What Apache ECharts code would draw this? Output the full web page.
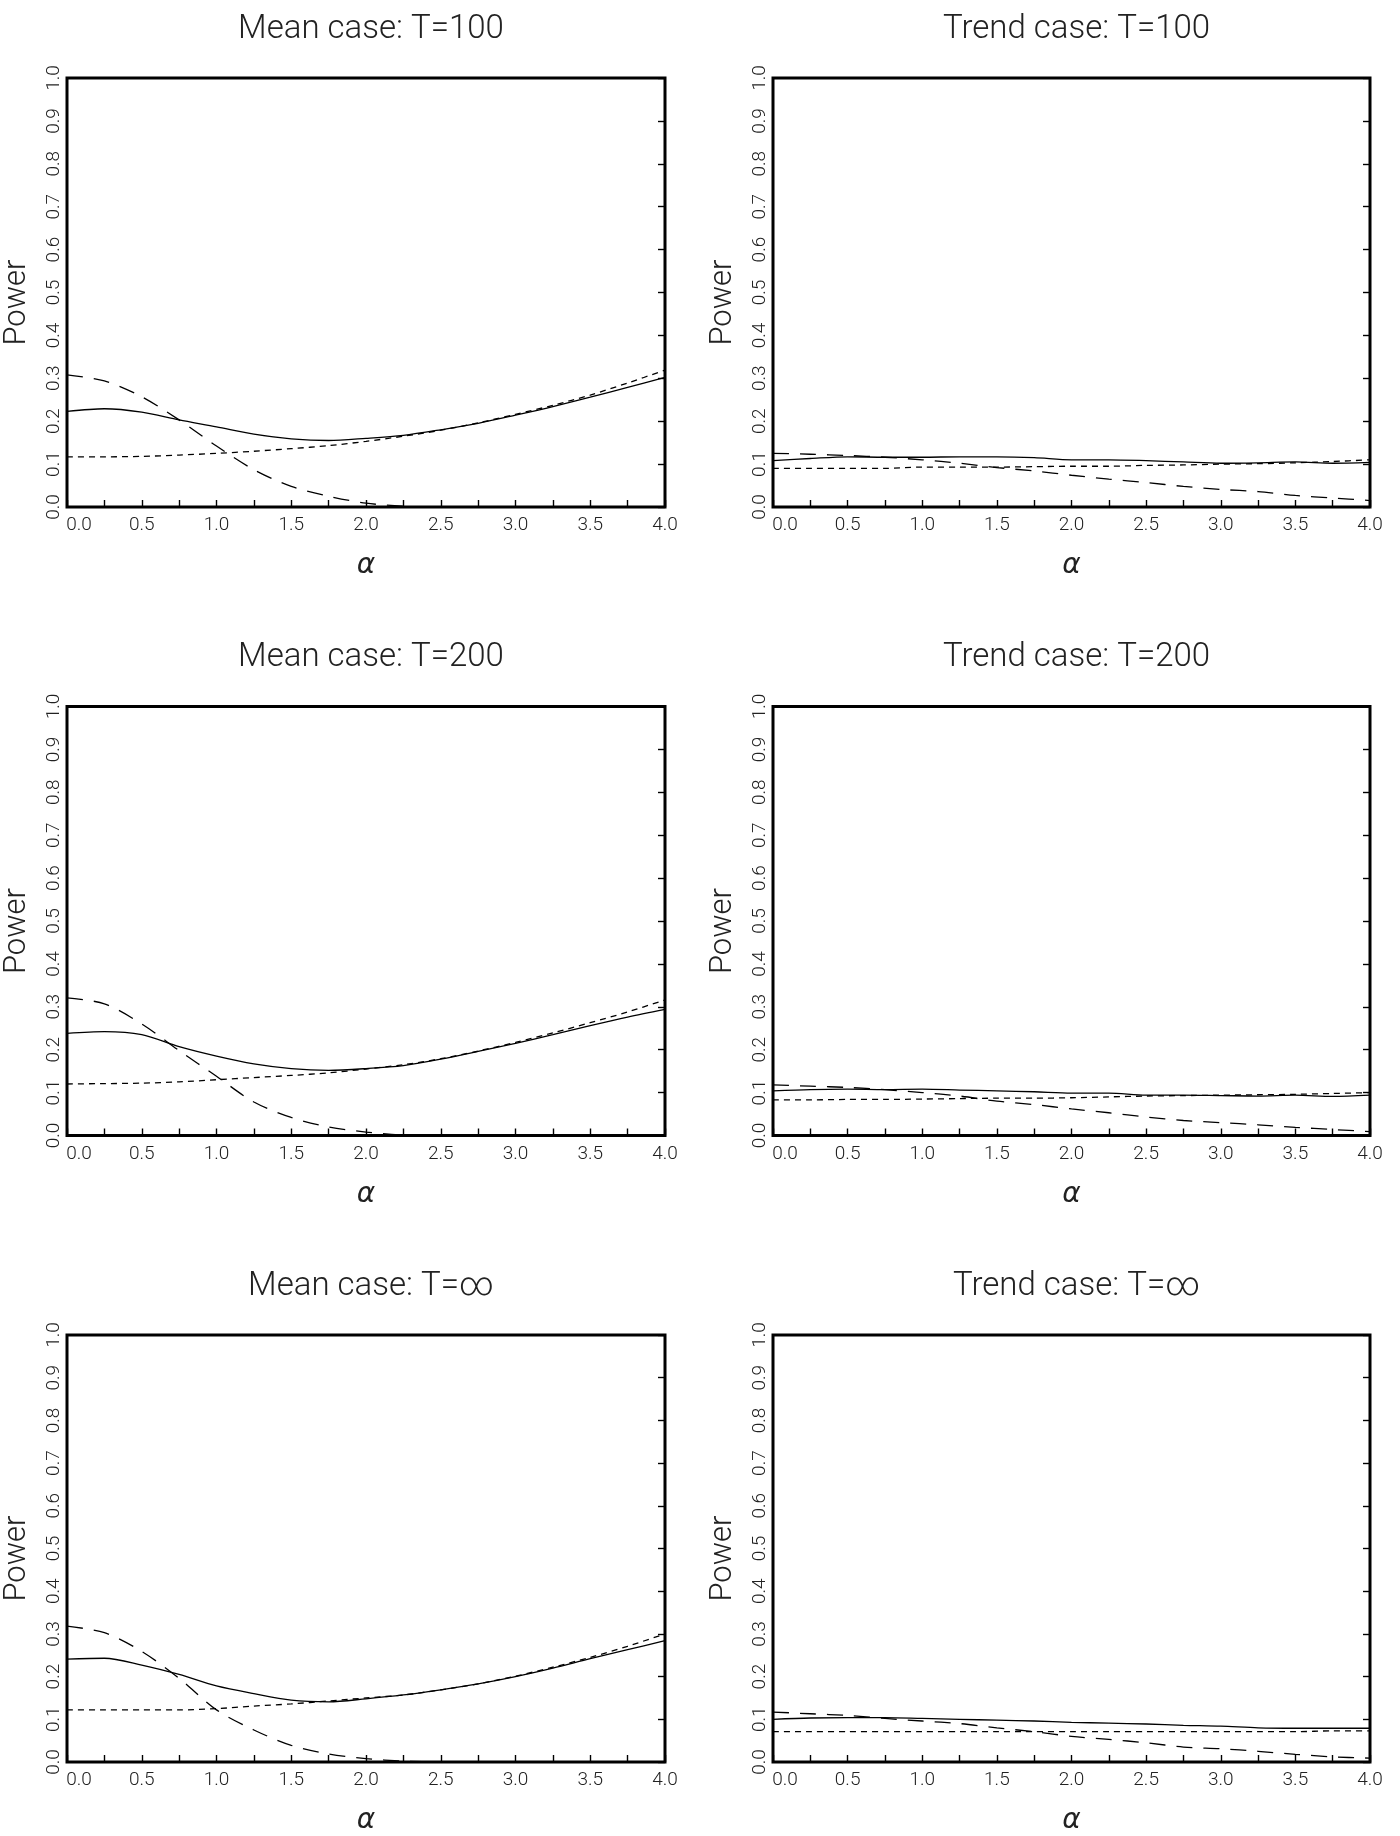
<!DOCTYPE html>
<html>
<head>
<meta charset="utf-8">
<script src="https://cdn.jsdelivr.net/npm/echarts@6/dist/echarts.min.js"></script>
<style>
html,body{margin:0;padding:0;background:#ffffff;}
#chart{width:1400px;height:1836px;}
</style>
</head>
<body>
<div id="chart"></div>
<script>
// ---------- DATA ----------
const alphaValues = [0, 0.25, 0.5, 0.75, 1.0, 1.25, 1.5, 1.75, 2.0, 2.25, 2.5, 2.75, 3.0, 3.25, 3.5, 3.75, 4.0];
const xTickLabels = ['0.0','0.5','1.0','1.5','2.0','2.5','3.0','3.5','4.0'];
const yTickLabels = ['0.0','0.1','0.2','0.3','0.4','0.5','0.6','0.7','0.8','0.9','1.0'];
const panelTitles = ['Mean case: T=100', 'Trend case: T=100', 'Mean case: T=200', 'Trend case: T=200', 'Mean case: T=\u221E', 'Trend case: T=\u221E'];
const yAxisTitle = 'Power';
const xAxisTitle = '\u03B1';

// Mean case, T=100
const meanT100Solid = [0.223, 0.229, 0.221, 0.203, 0.187, 0.170, 0.159, 0.155, 0.160, 0.167, 0.180, 0.195, 0.214, 0.234, 0.256, 0.279, 0.302];
const meanT100Long  = [0.308, 0.294, 0.257, 0.203, 0.142, 0.087, 0.048, 0.025, 0.009, 0.002, 0.000, 0.000, 0.000, 0.000, 0.000, 0.000, 0.000];
const meanT100Short = [0.117, 0.117, 0.118, 0.121, 0.125, 0.130, 0.136, 0.143, 0.153, 0.165, 0.179, 0.196, 0.216, 0.237, 0.261, 0.289, 0.319];
// Trend case, T=100
const trendT100Solid = [0.108, 0.113, 0.117, 0.116, 0.116, 0.117, 0.117, 0.115, 0.110, 0.110, 0.108, 0.105, 0.102, 0.103, 0.105, 0.102, 0.104];
const trendT100Long  = [0.125, 0.123, 0.120, 0.116, 0.110, 0.102, 0.092, 0.084, 0.074, 0.065, 0.057, 0.048, 0.041, 0.036, 0.027, 0.021, 0.015];
const trendT100Short = [0.090, 0.090, 0.090, 0.090, 0.093, 0.093, 0.093, 0.094, 0.095, 0.095, 0.097, 0.098, 0.100, 0.101, 0.103, 0.106, 0.110];
// Mean case, T=200
const meanT200Solid = [0.238, 0.242, 0.235, 0.207, 0.185, 0.167, 0.156, 0.152, 0.156, 0.163, 0.178, 0.196, 0.215, 0.235, 0.256, 0.276, 0.294];
const meanT200Long  = [0.321, 0.307, 0.260, 0.198, 0.138, 0.078, 0.042, 0.020, 0.008, 0.001, 0.000, 0.000, 0.000, 0.000, 0.000, 0.000, 0.000];
const meanT200Short = [0.120, 0.121, 0.122, 0.125, 0.130, 0.135, 0.140, 0.146, 0.155, 0.165, 0.179, 0.197, 0.217, 0.239, 0.263, 0.288, 0.316];
// Trend case, T=200
const trendT200Solid = [0.104, 0.107, 0.108, 0.107, 0.108, 0.106, 0.104, 0.102, 0.099, 0.099, 0.094, 0.094, 0.093, 0.092, 0.094, 0.091, 0.094];
const trendT200Long  = [0.118, 0.115, 0.112, 0.107, 0.100, 0.092, 0.080, 0.072, 0.062, 0.053, 0.043, 0.035, 0.030, 0.025, 0.019, 0.014, 0.009];
const trendT200Short = [0.083, 0.083, 0.084, 0.084, 0.085, 0.086, 0.087, 0.087, 0.088, 0.090, 0.092, 0.093, 0.094, 0.095, 0.096, 0.098, 0.100];
// Mean case, T=inf
const meanTinfSolid = [0.241, 0.243, 0.227, 0.205, 0.178, 0.160, 0.145, 0.141, 0.148, 0.157, 0.169, 0.183, 0.200, 0.220, 0.242, 0.263, 0.284];
const meanTinfLong  = [0.318, 0.303, 0.259, 0.196, 0.122, 0.075, 0.039, 0.019, 0.008, 0.002, 0.000, 0.000, 0.000, 0.000, 0.000, 0.000, 0.000];
const meanTinfShort = [0.122, 0.122, 0.122, 0.122, 0.125, 0.131, 0.136, 0.143, 0.150, 0.157, 0.169, 0.183, 0.201, 0.222, 0.245, 0.271, 0.300];
// Trend case, T=inf
const trendTinfSolid = [0.100, 0.103, 0.104, 0.104, 0.102, 0.100, 0.098, 0.096, 0.093, 0.091, 0.089, 0.086, 0.084, 0.080, 0.079, 0.079, 0.079];
const trendTinfLong  = [0.117, 0.113, 0.109, 0.102, 0.096, 0.090, 0.080, 0.071, 0.060, 0.053, 0.045, 0.035, 0.031, 0.025, 0.018, 0.012, 0.009];
const trendTinfShort = [0.071, 0.071, 0.071, 0.071, 0.071, 0.071, 0.071, 0.071, 0.071, 0.071, 0.071, 0.071, 0.071, 0.071, 0.071, 0.073, 0.073];

const panelSeries = [
  [meanT100Solid, meanT100Long, meanT100Short],
  [trendT100Solid, trendT100Long, trendT100Short],
  [meanT200Solid, meanT200Long, meanT200Short],
  [trendT200Solid, trendT200Long, trendT200Short],
  [meanTinfSolid, meanTinfLong, meanTinfShort],
  [trendTinfSolid, trendTinfLong, trendTinfShort]
];

// ---------- LAYOUT / STYLE ----------
const FONT = 'Roboto, "DejaVu Sans", sans-serif';
const TEXT_COLOR = '#222';
const lineTypes = ['solid', [16, 11], [6, 5]];
const gridLeft = [67, 773];
const gridWidth = [598, 597];
const gridTop0 = 78;
const rowStep = 628.5;
const gridHeight = 429;

const grids = [], xAxes = [], yAxes = [], series = [], titles = [];

for (let i = 0; i < 6; i++) {
  const r = Math.floor(i / 2), c = i % 2;
  const top = gridTop0 + r * rowStep;
  grids.push({
    left: gridLeft[c], top: top, width: gridWidth[c], height: gridHeight,
    show: true, borderColor: '#000', borderWidth: 3, backgroundColor: 'transparent',
    containLabel: false
  });
  titles.push({
    text: panelTitles[i],
    left: gridLeft[c] + gridWidth[c] / 2,
    top: top - 70,
    textAlign: 'center',
    textStyle: { fontFamily: FONT, fontWeight: 300, fontSize: 33, color: TEXT_COLOR }
  });
  xAxes.push({
    gridIndex: i, type: 'value', min: 0, max: 4, interval: 0.25,
    axisLine: { show: false },
    axisTick: { show: true, inside: true, length: 7, lineStyle: { color: '#000', width: 1.4 } },
    splitLine: { show: false },
    axisLabel: {
      show: true, margin: 9, fontFamily: FONT, fontWeight: 300, fontSize: 19, color: TEXT_COLOR,
      formatter: function (v) {
        const k = Math.round(v * 2);
        if (Math.abs(v * 2 - k) > 1e-6) return '';
        const lab = xTickLabels[k];
        return k === 0 ? '{first|' + lab + '}' : lab;
      },
      rich: { first: { padding: [0, 0, 0, 24], fontFamily: FONT, fontWeight: 300, fontSize: 19, color: TEXT_COLOR } }
    },
    name: xAxisTitle, nameLocation: 'middle', nameGap: 45,
    nameTextStyle: { fontFamily: '"DejaVu Sans", sans-serif', fontStyle: 'italic', fontWeight: 300, fontSize: 28, color: TEXT_COLOR }
  });
  yAxes.push({
    gridIndex: i, type: 'value', position: 'left', min: 0, max: 1, interval: 0.1,
    axisLine: { show: false }, axisTick: { show: false }, splitLine: { show: false },
    axisLabel: {
      rotate: 90, margin: 3, fontFamily: FONT, fontWeight: 300, fontSize: 19, color: TEXT_COLOR,
      formatter: function (v) { return yTickLabels[Math.round(v * 10)]; }
    },
    name: yAxisTitle, nameLocation: 'middle', nameGap: 34, nameRotate: 90,
    nameTextStyle: { fontFamily: FONT, fontWeight: 300, fontSize: 31, color: TEXT_COLOR, padding: [0, 20, 0, 0] }
  });
  yAxes.push({
    gridIndex: i, type: 'value', position: 'right', min: 0, max: 1, interval: 0.1,
    axisLine: { show: false }, splitLine: { show: false },
    axisTick: { show: true, inside: true, length: 7, lineStyle: { color: '#000', width: 1.4 } },
    axisLabel: { show: false }
  });
  panelSeries[i].forEach(function (vals, j) {
    series.push({
      type: 'line', xAxisIndex: i, yAxisIndex: 2 * i,
      data: alphaValues.map(function (a, k) { return [a, vals[k]]; }),
      showSymbol: false, symbol: 'none', smooth: 0.3, clip: true,
      lineStyle: { color: '#000', width: 1.3, type: lineTypes[j] },
      silent: true
    });
  });
}

const chart = echarts.init(document.getElementById('chart'), null, { renderer: 'canvas' });
chart.setOption({
  animation: false,
  backgroundColor: '#ffffff',
  title: titles,
  grid: grids,
  xAxis: xAxes,
  yAxis: yAxes,
  series: series
});
</script>
</body>
</html>
